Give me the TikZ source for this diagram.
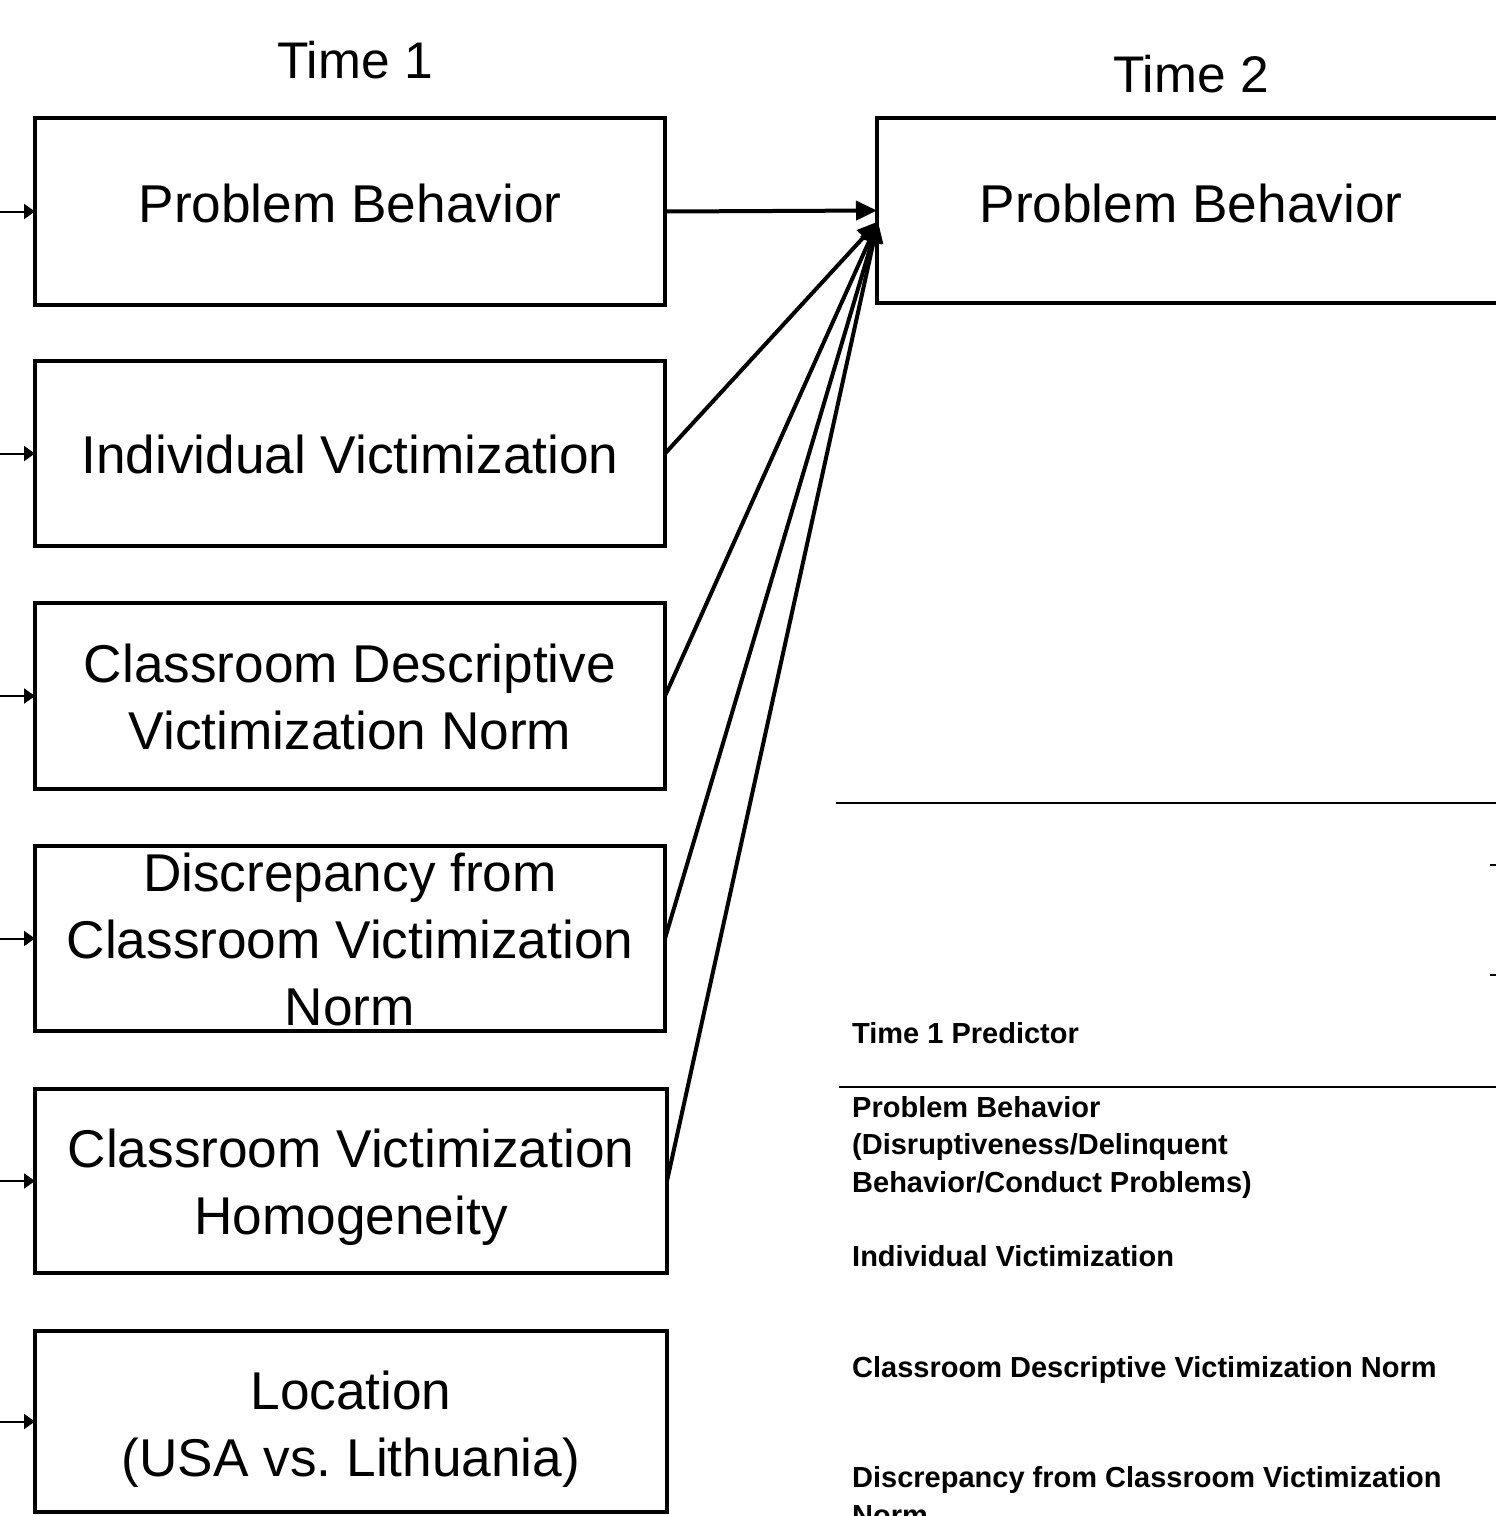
\documentclass[tikz,border=0pt]{standalone}
\usepackage{fontspec}
\setmainfont{Liberation Sans}
\usetikzlibrary{arrows.meta,calc}
\begin{document}
\begin{tikzpicture}[x=1pt,y=-1pt,
  varbox/.style={draw=black,rectangle,line width=4pt,inner sep=0pt,outer sep=0pt},
  bigtext/.style={font=\fontsize{53.2}{67}\selectfont,align=center,anchor=base,inner sep=0pt},
  headtext/.style={font=\fontsize{51.5}{62}\selectfont,anchor=base,inner sep=0pt},
  tabtext/.style={font=\fontsize{29}{37.5}\selectfont\bfseries,align=left,anchor=base west,inner sep=0pt},
  effect/.style={line width=4pt,-{Triangle[length=21pt,width=19pt]}},
  inflow/.style={line width=2pt,-{Triangle[length=11pt,width=15pt]}},
  rule/.style={line width=2pt}]
\useasboundingbox (0,0) rectangle (1496,1516);
\clip (0,0) rectangle (1496,1516);

% column headings
\node[headtext] (h1) at (355,78) {Time 1};
\node[headtext] (h2) at (1191,92) {Time 2};

% Time 1 variables (multi-line labels are placed by their last baseline)
\node[varbox,minimum width=630pt,minimum height=187pt] (b1) at (350,211.5) {};
\node[varbox,minimum width=630pt,minimum height=185pt] (b2) at (350,453.5) {};
\node[varbox,minimum width=630pt,minimum height=186pt] (b3) at (350,696) {};
\node[varbox,minimum width=630pt,minimum height=185pt] (b4) at (350,938.5) {};
\node[varbox,minimum width=632pt,minimum height=184pt] (b5) at (351,1181) {};
\node[varbox,minimum width=632pt,minimum height=181pt] (b6) at (351,1421.5) {};

\node[bigtext] (l1) at (350,222) {Problem Behavior};
\node[bigtext] (l2) at (350,473) {Individual Victimization};
\node[bigtext] (l3) at (350,749) {Classroom Descriptive\\Victimization Norm};
\node[bigtext] (l4) at (350,1025) {Discrepancy from\\Classroom Victimization\\Norm};
\node[bigtext] (l5) at (351,1234) {Classroom Victimization\\Homogeneity};
\node[bigtext] (l6) at (351,1476) {Location\\(USA vs.\ Lithuania)};

% Time 2 outcome
\node[varbox,minimum width=628pt,minimum height=185pt] (o1) at (1191,210.5) {};
\node[bigtext] (lo) at (1191,222) {Problem Behavior};

% incoming arrows on the left edge
\foreach \b in {b1,b2,b3,b4,b5,b6}{
  \path (\b.west) ++(-40,0) coordinate (\b-in);
  \draw[inflow] (\b-in) -- (\b.west);
}

% paths to the Time 2 outcome
\coordinate (conv) at ($(o1.west)+(1,11)$);
\draw[effect] (b1.east) -- (o1.west);
\foreach \b in {b2,b3,b4,b5}{
  \draw[effect] (\b.east) -- (conv);
}

% table fragment
\coordinate (r1a) at (836,803);  \coordinate (r1b) at (1500,803);
\coordinate (r2a) at (839,1087); \coordinate (r2b) at (1500,1087);
\coordinate (k1a) at (1490,865); \coordinate (k1b) at (1500,865);
\coordinate (k2a) at (1490,975); \coordinate (k2b) at (1500,975);
\draw[rule] (r1a) -- (r1b);
\draw[rule] (r2a) -- (r2b);
\draw[rule] (k1a) -- (k1b);
\draw[rule] (k2a) -- (k2b);

\node[tabtext] (p0) at (852,1043) {Time 1 Predictor};
\node[tabtext] (p1) at (852,1192) {Problem Behavior\\(Disruptiveness/Delinquent\\Behavior/Conduct Problems)};
\node[tabtext] (p2) at (852,1266) {Individual Victimization};
\node[tabtext] (p3) at (852,1377) {Classroom Descriptive Victimization Norm};
\node[tabtext] (p4) at (852,1525) {Discrepancy from Classroom Victimization\\Norm};
\end{tikzpicture}
\end{document}
